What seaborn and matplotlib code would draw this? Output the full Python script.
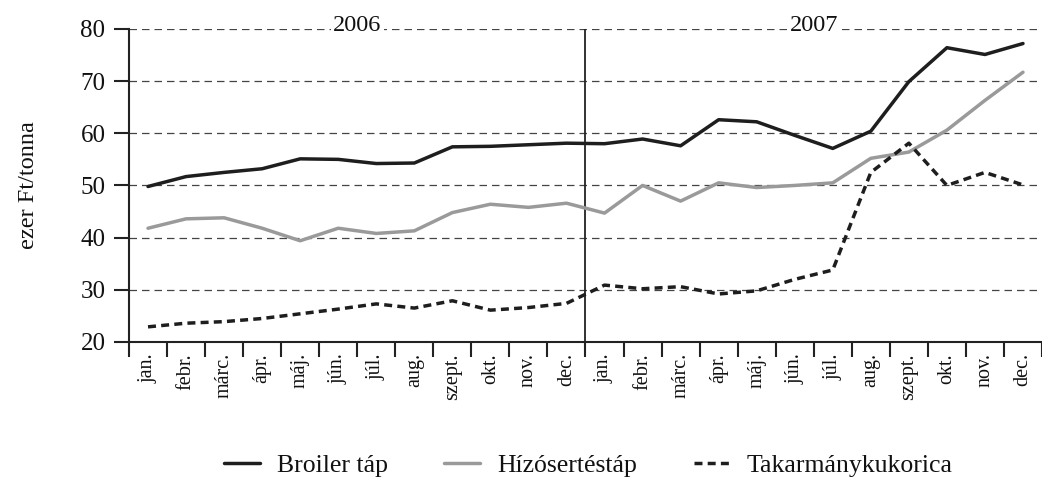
import numpy as np
import pandas as pd
import matplotlib
matplotlib.use("Agg")
import matplotlib.pyplot as plt
import seaborn as sns

months = ['jan.', 'febr.', 'márc.', 'ápr.', 'máj.', 'jún.',
          'júl.', 'aug.', 'szept.', 'okt.', 'nov.', 'dec.']
labels = months + months
years = ['2006', '2007']

broiler = [49.8, 51.7, 52.5, 53.2, 55.1, 55.0, 54.2, 54.3, 57.4, 57.5, 57.8, 58.1,
           58.0, 58.9, 57.6, 62.6, 62.2, 59.6, 57.1, 60.4, 69.9, 76.4, 75.1, 77.2]
hizo = [41.8, 43.6, 43.8, 41.8, 39.4, 41.8, 40.8, 41.3, 44.8, 46.4, 45.8, 46.6,
        44.7, 50.0, 47.0, 50.5, 49.6, 50.0, 50.5, 55.2, 56.4, 60.6, 66.3, 71.7]
kukorica = [22.9, 23.6, 23.9, 24.5, 25.4, 26.3, 27.3, 26.5, 27.9, 26.1, 26.6, 27.4,
            30.9, 30.2, 30.6, 29.2, 29.8, 32.0, 33.8, 52.5, 58.1, 50.0, 52.5, 50.1]
series_names = ['Broiler táp', 'Hízósertéstáp', 'Takarmánykukorica']

df = pd.DataFrame({
    'x': list(range(24)) * 3,
    'ertek': broiler + hizo + kukorica,
    'sorozat': [series_names[0]] * 24 + [series_names[1]] * 24 + [series_names[2]] * 24,
})

sns.set_style("white")
plt.rcParams['font.family'] = ['Liberation Serif', 'DejaVu Serif']
plt.rcParams['text.color'] = '#111111'
plt.rcParams['xtick.color'] = '#111111'
plt.rcParams['ytick.color'] = '#111111'
plt.rcParams['axes.labelcolor'] = '#111111'

fig = plt.figure(figsize=(10.42, 4.82), dpi=100)
ax = fig.add_axes([0.1238, 0.2905, 1.0 - 0.1238, 0.94 - 0.2905])

# grid first so lines sit on top
for yv in [30, 40, 50, 60, 70, 80]:
    ax.axhline(yv, color='#444444', lw=0.9, linestyle=(0, (6, 4)), zorder=1)
ax.axvline(11.5, color='#222222', lw=1.3, zorder=2)

palette = {series_names[0]: '#1e1e1e', series_names[1]: '#9a9a9a', series_names[2]: '#1e1e1e'}
dashes = {series_names[0]: '', series_names[1]: '', series_names[2]: (2.3, 1.5)}
sns.lineplot(data=df, x='x', y='ertek', hue='sorozat', style='sorozat',
             palette=palette, dashes=dashes, lw=2.5, ax=ax, zorder=3)

ax.set_xlim(-0.5, 23.37)
ax.set_ylim(20, 80)
ax.set_yticks([20, 30, 40, 50, 60, 70, 80])
ax.set_xticks(np.arange(-0.5, 24, 1.0))
ax.set_xticklabels([])
ax.set_xticks(np.arange(24), minor=True)
ax.set_xticklabels(labels, minor=True, rotation=90, fontsize=14.5)
ax.tick_params(axis='x', which='major', bottom=True, direction='out', length=11,
               width=1.5, color='#222222')
ax.tick_params(axis='x', which='minor', bottom=True, length=0, pad=8)
ax.tick_params(axis='y', left=True, direction='out', length=11, width=1.5, color='#222222',
               labelsize=18, pad=6)
for s in ['top', 'right']:
    ax.spines[s].set_visible(False)
for s in ['left', 'bottom']:
    ax.spines[s].set_linewidth(1.5)
    ax.spines[s].set_color('#222222')

ax.set_xlabel('')
ax.set_ylabel('ezer Ft/tonna', fontsize=17.5, labelpad=30)

for i, yr in enumerate(years):
    ax.text(5.5 + 12 * i, 80.6, yr, ha='center', va='center', fontsize=17.5,
            bbox=dict(facecolor='white', edgecolor='none', pad=1.5), zorder=4)

ax.legend(loc='center', bbox_to_anchor=(0.503, -0.395), ncol=3, frameon=False,
          fontsize=18.5, handlelength=1.4, columnspacing=2.2, handletextpad=0.65)

fig.savefig('out.png', dpi=100)
